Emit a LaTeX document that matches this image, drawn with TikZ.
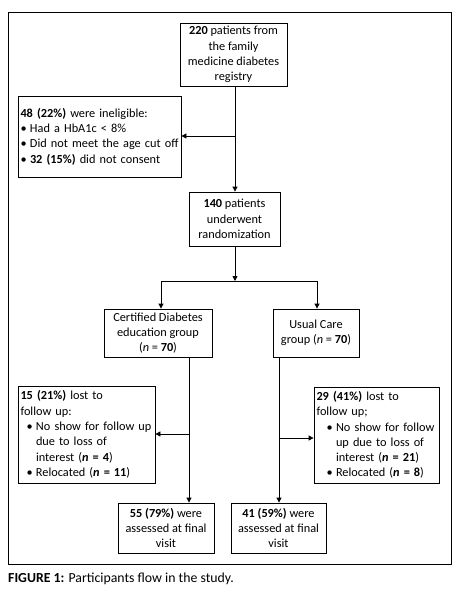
\documentclass[tikz,border=0pt]{standalone}
\usepackage{fontspec}
\setmainfont{Carlito}
\usetikzlibrary{arrows.meta}
\newcommand\bl{\makebox[9.5pt][l]{•}}
\begin{document}
\begin{tikzpicture}[x=1pt,y=-1pt,
  every node/.style={font=\fontsize{12.3}{15.3}\selectfont},
  box/.style={draw,line width=0.8pt,inner xsep=2.5pt,inner ysep=0pt},
  arr/.style={line width=0.8pt,-{Triangle[length=5pt,width=5pt]}},
  ln/.style={line width=0.8pt}]
\useasboundingbox (0,0) rectangle (462,594);
\draw[line width=0.8pt] (8,12) rectangle (451,564);
\node[box,align=center,minimum width=107pt,minimum height=63pt] (top) at (233.5,54.5)
  {\textbf{220} patients from\\the family\\medicine diabetes\\registry};
\node[box,align=left,text width=158pt,minimum height=81pt] (inel) at (99.5,136.5)
  {\textbf{48 (22\%)} were ineligible:\\\bl Had a HbA1c < 8\%\\\bl Did not meet the age cut off\\\bl\textbf{32 (15\%)} did not consent};
\node[box,align=center,minimum width=91pt,minimum height=54pt] (rand) at (234.5,219)
  {\textbf{140} patients\\underwent\\randomization};
\node[box,align=center,minimum width=108pt,minimum height=48pt] (cde) at (158,333)
  {Certified Diabetes\\education group\\(\textit{n} = \textbf{70})};
\node[box,align=center,minimum width=86pt,minimum height=48pt] (uc) at (316,333)
  {Usual Care\\group (\textit{n} = \textbf{70})};
\node[box,align=left,text width=132pt,minimum height=97pt] (lostl) at (86.5,434.5)
  {\textbf{15 (21\%)} lost to\\follow up:\\\hspace*{6pt}\bl No show for follow up\\\hspace*{15.5pt}due to loss of\\\hspace*{15.5pt}interest (\textbf{\textit{n} = 4})\\\hspace*{6pt}\bl Relocated (\textbf{\textit{n} = 11})};
\node[box,align=left,text width=120pt,minimum height=96pt] (lostr) at (376.5,435)
  {\textbf{29 (41\%)} lost to\\follow up;\\\hspace*{10pt}\bl No show for follow\\\hspace*{19.5pt}up due to loss of\\\hspace*{19.5pt}interest (\textbf{\textit{n} = 21})\\\hspace*{10pt}\bl Relocated (\textbf{\textit{n} = 8})};
\node[box,align=center,minimum width=96pt,minimum height=50pt] (fin1) at (166,528)
  {\textbf{55 (79\%)} were\\assessed at final\\visit};
\node[box,align=center,minimum width=95pt,minimum height=50pt] (fin2) at (278.5,528)
  {\textbf{41 (59\%)} were\\assessed at final\\visit};
\node[anchor=west,inner sep=0pt,font=\fontsize{13.8}{15}\selectfont] (cap) at (8,579)
  {\textbf{FIGURE 1:} Participants flow in the study.};
% connectors
\coordinate (b1) at (235,136);
\coordinate (j1) at (235,281);
\coordinate (jl) at (161,281);
\coordinate (jr) at (317,281);
\coordinate (b2) at (189,434);
\coordinate (b3) at (279,438);
\draw[arr] (top.south -| b1) -- (rand.north -| b1);
\draw[arr] (b1) -- (inel.east |- b1);
\draw[arr] (rand.south -| j1) -- (j1);
\draw[ln] (jl) -- (jr);
\draw[arr] (jl) -- (cde.north -| jl);
\draw[arr] (jr) -- (uc.north -| jr);
\draw[arr] (cde.south -| b2) -- (fin1.north -| b2);
\draw[arr] (b2) -- (lostl.east |- b2);
\draw[arr] (uc.south -| b3) -- (fin2.north -| b3);
\draw[arr] (b3) -- (lostr.west |- b3);
\end{tikzpicture}
\end{document}
